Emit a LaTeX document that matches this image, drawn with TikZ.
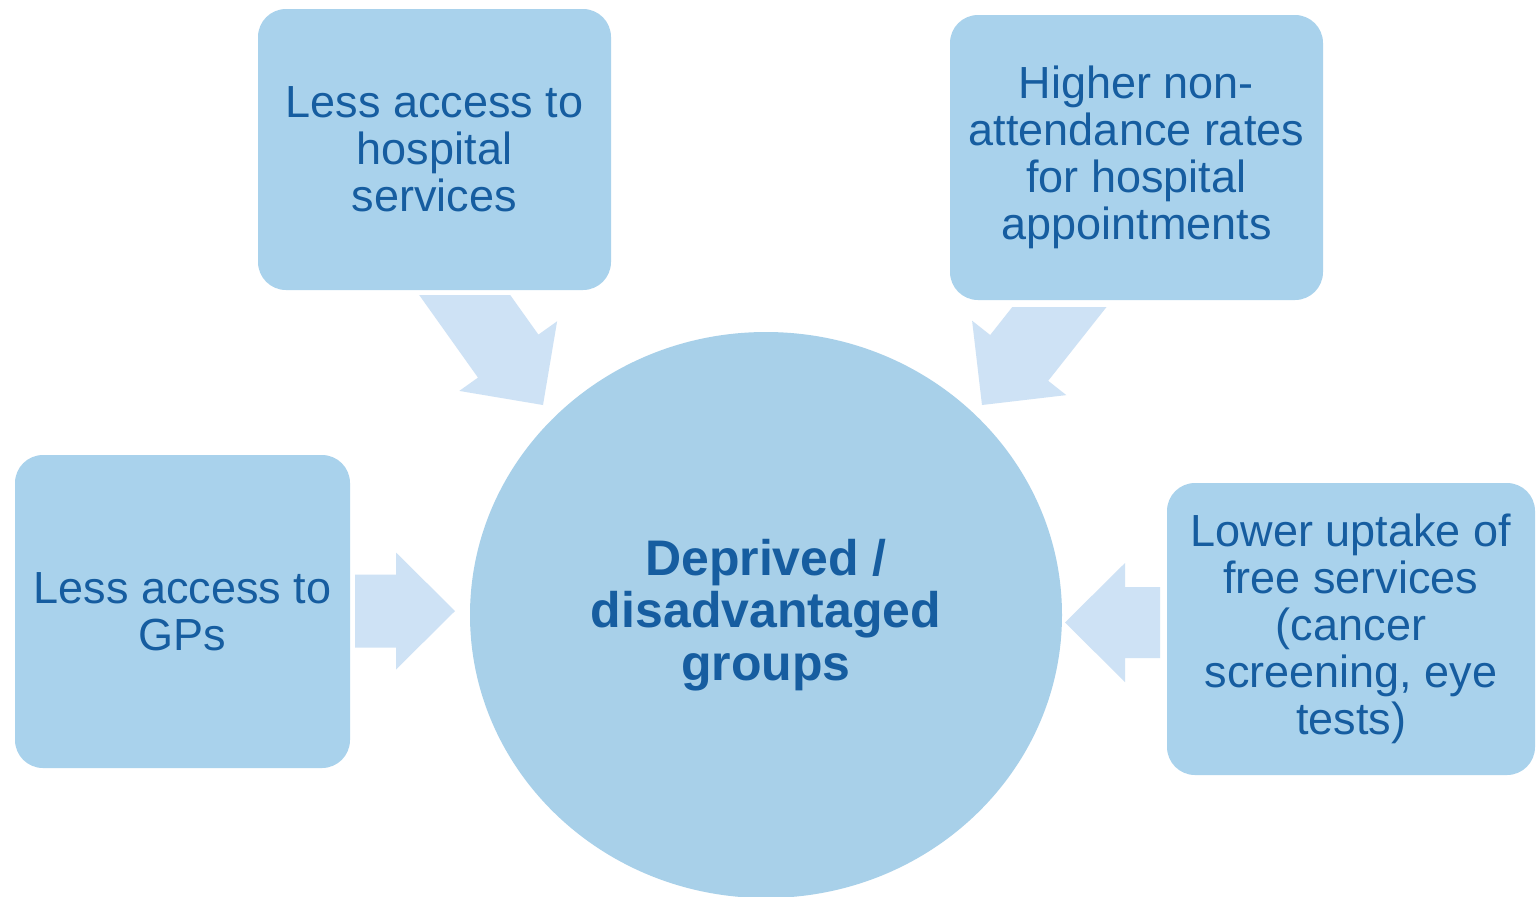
\documentclass[tikz,border=0pt]{standalone}
\usepackage{fontspec}
\setmainfont{Liberation Sans}
\usetikzlibrary{shapes.geometric}

\definecolor{boxfill}{RGB}{169,210,236}
\definecolor{hubfill}{RGB}{168,208,233}
\definecolor{arrowfill}{RGB}{206,226,245}
\definecolor{labeltext}{RGB}{22,93,160}

\tikzset{
  causebox/.style={rounded corners=14pt, fill=boxfill, draw=none,
    align=center, text=labeltext, inner sep=0pt,
    font={\fontsize{22.5}{23.5}\selectfont}},
  hub/.style={ellipse, fill=hubfill, draw=none, inner sep=0pt,
    align=center, text=labeltext,
    font={\fontsize{25}{26.3}\selectfont\bfseries}},
  blockarrow/.style={fill=arrowfill, draw=none}
}

\begin{document}
\begin{tikzpicture}[x=0.5pt, y=-0.5pt]
  % canvas
  \fill[white] (0,0) rectangle (1538,896);
  \useasboundingbox (0,0) rectangle (1538,896);

  % block arrows pointing at the central group
  \coordinate (tl-tip) at (543,405);
  \coordinate (tr-tip) at (982,405);
  \coordinate (l-tip)  at (455,611);
  \coordinate (r-tip)  at (1065,622.5);

  \fill[blockarrow] (419.2,295) -- (510.2,295) -- (538.4,334.6) -- (557.1,321.3)
    -- (tl-tip) -- (459.3,390.9) -- (478.0,377.6) -- cycle;
  \fill[blockarrow] (1012.3,307) -- (1106.5,307) -- (1048.2,380.8) -- (1066.3,395.1)
    -- (tr-tip) -- (972.1,320.7) -- (990.2,335.0) -- cycle;
  \fill[blockarrow] (355,574.5) -- (396,574.5) -- (396,552.5) -- (l-tip)
    -- (396,669.5) -- (396,647.5) -- (355,647.5) -- cycle;
  \fill[blockarrow] (1160,587) -- (1125,587) -- (1125,563) -- (r-tip)
    -- (1125,682) -- (1125,658) -- (1160,658) -- cycle;

  % central group
  \node[hub, minimum width=296pt, minimum height=283pt] (groups) at (766,615)
    {Deprived /\\disadvantaged\\groups};

  % contributing factors
  \node[causebox, minimum width=176.5pt, minimum height=140.5pt] (hospital) at (434.5,149.5)
    {Less access to\\hospital\\services};
  \node[causebox, minimum width=186.5pt, minimum height=142.5pt] (nonattend) at (1136.5,157.5)
    {Higher non-\\attendance rates\\for hospital\\appointments};
  \node[causebox, minimum width=167.5pt, minimum height=156.5pt] (gps) at (182.5,611.5)
    {Less access to\\GPs};
  \node[causebox, minimum width=184pt, minimum height=146pt] (uptake) at (1351,629)
    {Lower uptake of\\free services\\(cancer\\screening, eye\\tests)};
\end{tikzpicture}
\end{document}
